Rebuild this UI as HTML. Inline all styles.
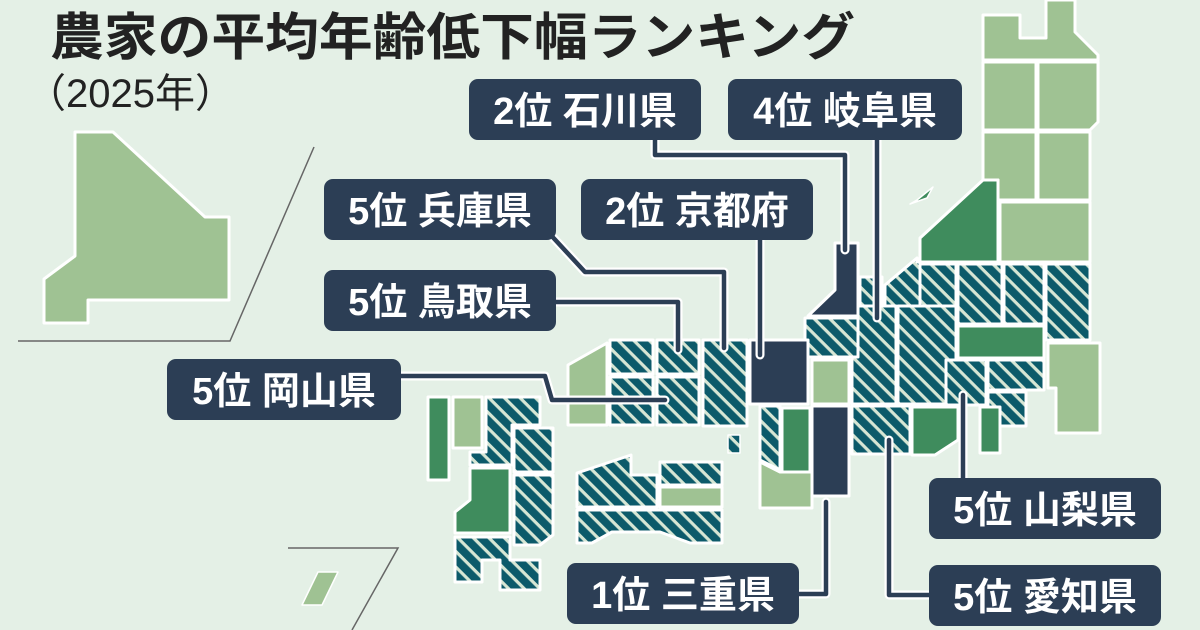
<!DOCTYPE html>
<html><head><meta charset="utf-8"><style>
body{margin:0;width:1200px;height:630px;overflow:hidden;background:#e4f0e6;font-family:"Liberation Sans","Noto Sans CJK JP",sans-serif}
</style></head><body>
<svg width="1200" height="630" viewBox="0 0 1200 630" xmlns="http://www.w3.org/2000/svg" style="position:absolute;left:0;top:0">
<defs>
<pattern id="h" patternUnits="userSpaceOnUse" width="11" height="11" patternTransform="rotate(45)">
<rect width="11" height="11" fill="#0c5a6a"/><rect x="0" y="0" width="11" height="3.2" fill="#d6e6d4"/>
</pattern>
</defs>
<rect width="1200" height="630" fill="#e4f0e6"/>
<text x="50" y="55" font-size="51" font-weight="bold" fill="#222" textLength="805" lengthAdjust="spacingAndGlyphs" font-family="Liberation Sans,Noto Sans CJK JP,sans-serif">農家の平均年齢低下幅ランキング</text>
<text x="26" y="107" font-size="40" fill="#222" font-family="Liberation Sans,Noto Sans CJK JP,sans-serif">（2025年）</text>
<g stroke="#fff" stroke-width="3" stroke-linejoin="round">
<polygon points="75,132 113,132 205,217 229,217 229,300 88,300 88,323 44,323 44,279 75,256" fill="#9fc293"/>
<polygon points="983,15 1020,15 1020,38 1046,38 1046,0 1075,0 1075,32 1098,55 1098,60 983,60" fill="#9fc293"/>
<rect x="983" y="62" width="53" height="68" fill="#9fc293"/>
<polygon points="1038,62 1098,62 1098,122 1090,130 1038,130" fill="#9fc293"/>
<polygon points="983,132 1036,132 1036,200 998,200 998,180 983,180" fill="#9fc293"/>
<rect x="1038" y="132" width="52" height="68" fill="#9fc293"/>
<rect x="1000" y="202" width="90" height="60" fill="#9fc293"/>
<polygon points="998,180 998,262 920,262 920,238 983,180" fill="#3f8c5d"/>
<polygon points="917,200 933,187 927,198 910,204" fill="#3f8c5d" stroke-width="1.5"/>
<polygon points="885,285 917,258 917,262 920,262 920,307 885,307" fill="url(#h)"/>
<rect x="920" y="264" width="36" height="60" fill="url(#h)"/>
<rect x="958" y="264" width="44" height="60" fill="url(#h)"/>
<rect x="1004" y="264" width="40" height="60" fill="url(#h)"/>
<polygon points="1046,264 1090,264 1090,340 1046,340" fill="url(#h)"/>
<rect x="958" y="326" width="86" height="32" fill="#3f8c5d"/>
<polygon points="1048,343 1100,343 1100,433 1056,433 1056,388 1048,388" fill="#9fc293"/>
<rect x="898" y="306" width="58" height="98" fill="url(#h)"/>
<rect x="946" y="360" width="40" height="45" fill="url(#h)"/>
<rect x="988" y="360" width="56" height="30" fill="url(#h)"/>
<rect x="988" y="392" width="38" height="34" fill="url(#h)"/>
<rect x="980" y="407" width="20" height="46" fill="#3f8c5d"/>
<polygon points="912,407 958,407 958,440 935,455 912,455" fill="#3f8c5d"/>
<rect x="852" y="406" width="58" height="48" fill="url(#h)"/>
<rect x="860" y="277" width="22" height="30" fill="url(#h)"/>
<rect x="852" y="306" width="44" height="98" fill="url(#h)"/>
<polygon points="835,243 858,243 858,316 808,316 835,290" fill="#2c3e55"/>
<polygon points="805,318 858,318 858,357 773,357 773,343 805,343" fill="url(#h)"/>
<rect x="750" y="340" width="58" height="64" fill="#2c3e55"/>
<rect x="812" y="360" width="37" height="44" fill="#9fc293"/>
<rect x="812" y="406" width="37" height="90" fill="#2c3e55"/>
<rect x="782" y="408" width="28" height="72" fill="#3f8c5d"/>
<polygon points="760,406 780,406 780,470 760,460" fill="url(#h)"/>
<polygon points="760,462 780,472 812,472 812,508 760,508" fill="#9fc293"/>
<rect x="703" y="340" width="44" height="86" fill="url(#h)"/>
<rect x="657" y="340" width="42" height="34" fill="url(#h)"/>
<rect x="657" y="377" width="42" height="48" fill="url(#h)"/>
<rect x="610" y="340" width="43" height="34" fill="url(#h)"/>
<rect x="610" y="377" width="43" height="48" fill="url(#h)"/>
<polygon points="568,365 607,343 607,425 568,425" fill="#9fc293"/>
<rect x="728" y="435" width="12" height="18" fill="url(#h)" stroke-width="1.5"/>
<polygon points="577,473 631,455 631,475 657,475 657,507 577,507" fill="url(#h)"/>
<rect x="660" y="462" width="62" height="23" fill="url(#h)"/>
<rect x="660" y="487" width="62" height="20" fill="#9fc293"/>
<polygon points="577,510 722,510 722,543 690,543 660,532 612,532 592,543 577,543" fill="url(#h)"/>
<rect x="428" y="397" width="21" height="83" fill="#3f8c5d"/>
<rect x="453" y="397" width="29" height="51" fill="#9fc293"/>
<polygon points="486,397 540,397 540,425 512,425 512,465 470,465 470,452 486,452" fill="url(#h)"/>
<polygon points="514,428 553,428 553,472 514,472" fill="url(#h)"/>
<polygon points="470,468 510,468 510,533 455,533 455,512 470,500" fill="#3f8c5d"/>
<polygon points="514,475 553,475 553,535 540,545 514,545" fill="url(#h)"/>
<polygon points="455,537 510,537 510,560 540,560 540,590 500,590 500,560 482,560 482,582 455,582" fill="url(#h)"/>
<polygon points="318,572 338,572 322,605 302,605" fill="#9fc293" stroke-width="1.5"/>
</g>
<polyline points="18,341 230,341 314,147" fill="none" stroke="#666" stroke-width="1.5"/>
<polyline points="288,548 398,548 352,630" fill="none" stroke="#666" stroke-width="1.5"/>
<g fill="none" stroke-linejoin="round" stroke-linecap="round">
<g stroke="#fff" stroke-width="9">
<polyline points="655,138 655,155 845,155 845,250"/>
<polyline points="877,138 877,318"/>
<polyline points="548,232 585,272 724,272 724,348"/>
<polyline points="760,238 760,355"/>
<polyline points="553,302 678,302 678,350"/>
<polyline points="398,376 545,376 552,400 665,400"/>
<polyline points="796,594 826,594 826,502"/>
<polyline points="963,478 963,395"/>
<polyline points="889,440 889,595 930,595"/>
</g>
<g stroke="#2c3e55" stroke-width="4.5">
<polyline points="655,138 655,155 845,155 845,250"/>
<polyline points="877,138 877,318"/>
<polyline points="548,232 585,272 724,272 724,348"/>
<polyline points="760,238 760,355"/>
<polyline points="553,302 678,302 678,350"/>
<polyline points="398,376 545,376 552,400 665,400"/>
<polyline points="796,594 826,594 826,502"/>
<polyline points="963,478 963,395"/>
<polyline points="889,440 889,595 930,595"/>
</g>
</g>
<g font-size="38" font-weight="bold" fill="#fff" font-family="Liberation Sans,Noto Sans CJK JP,sans-serif" text-anchor="middle">
<rect x="469" y="79" width="232" height="61" rx="9" fill="#2c3e55"/><text x="585" y="124">2位 石川県</text>
<rect x="728" y="79" width="234" height="61" rx="9" fill="#2c3e55"/><text x="845" y="124">4位 岐阜県</text>
<rect x="324" y="179" width="232" height="61" rx="9" fill="#2c3e55"/><text x="440" y="224">5位 兵庫県</text>
<rect x="581" y="179" width="232" height="61" rx="9" fill="#2c3e55"/><text x="697" y="224">2位 京都府</text>
<rect x="324" y="270" width="232" height="61" rx="9" fill="#2c3e55"/><text x="440" y="315">5位 鳥取県</text>
<rect x="167" y="359" width="234" height="61" rx="9" fill="#2c3e55"/><text x="284" y="404">5位 岡山県</text>
<rect x="567" y="563" width="232" height="61" rx="9" fill="#2c3e55"/><text x="683" y="608">1位 三重県</text>
<rect x="929" y="478" width="232" height="61" rx="9" fill="#2c3e55"/><text x="1045" y="523">5位 山梨県</text>
<rect x="929" y="565" width="232" height="61" rx="9" fill="#2c3e55"/><text x="1045" y="610">5位 愛知県</text>
</g>
</svg>
</body></html>
